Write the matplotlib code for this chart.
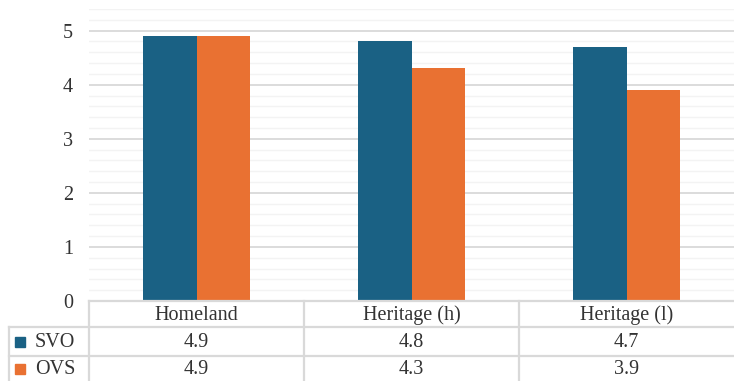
import matplotlib
matplotlib.use("Agg")
import matplotlib.pyplot as plt
from matplotlib.lines import Line2D
from matplotlib.patches import Rectangle
import numpy as np

categories = ["Homeland", "Heritage (h)", "Heritage (l)"]
series_names = ["SVO", "OVS"]
svo = [4.9, 4.8, 4.7]
ovs = [4.9, 4.3, 3.9]
yticks = [0, 1, 2, 3, 4, 5]
colors = ["#1A6184", "#E97132"]

plt.rcParams['font.family'] = ['Liberation Serif', 'DejaVu Serif']

W, H = 734, 381
fig = plt.figure(figsize=(W / 100, H / 100), dpi=100)

def fx(px):
    return px / W

def fy(py):
    return 1 - py / H

txt_c = "#333333"
fs = 14.5

ax_left, ax_right, ax_top, ax_bot = 89, 734, 9, 301
ax = fig.add_axes([fx(ax_left), fy(ax_bot), fx(ax_right - ax_left), (ax_bot - ax_top) / H])

x = np.arange(len(categories))
bw = 0.25
ax.bar(x - bw / 2, svo, bw, color=colors[0], zorder=3)
ax.bar(x + bw / 2, ovs, bw, color=colors[1], zorder=3)
ax.set_xlim(-0.5, len(categories) - 0.5)
ax.set_ylim(0, 5.4)
ax.set_yticks(yticks)
ax.set_yticklabels([str(t) for t in yticks], fontsize=fs, color=txt_c)
ax.set_yticks(np.arange(0, 5.41, 0.2), minor=True)
ax.tick_params(axis='y', which='both', length=0, pad=11.5)
ax.set_xticks([])
ax.grid(axis='y', which='major', color="#d9d9d9", linewidth=1.3, zorder=0)
ax.grid(axis='y', which='minor', color="#f3f3f3", linewidth=1.0, zorder=0)
for s in ax.spines.values():
    s.set_visible(False)

# data table
line_c = "#d9d9d9"
lw = 1.6
col_edges = [ax_left + (ax_right - ax_left) * i / len(categories) for i in range(len(categories) + 1)]
row_y = [301, 327, 356, 381]
leg_left = 9

def hline(x0, x1, y):
    fig.add_artist(Line2D([fx(x0), fx(x1)], [fy(y), fy(y)], color=line_c, lw=lw))

def vline(xp, y0, y1):
    fig.add_artist(Line2D([fx(xp), fx(xp)], [fy(y0), fy(y1)], color=line_c, lw=lw))

hline(ax_left, W, row_y[0])
hline(leg_left, W, row_y[1])
hline(leg_left, W, row_y[2])
vline(leg_left, row_y[1], H)
for i, cx in enumerate(col_edges[:-1]):
    vline(cx, row_y[0], H)

for i, c in enumerate(categories):
    cx = (col_edges[i] + col_edges[i + 1]) / 2
    fig.text(fx(cx), fy((row_y[0] + row_y[1]) / 2 + 1), c, ha='center', va='center', fontsize=fs, color=txt_c)

for r, (name, vals) in enumerate(zip(series_names, [svo, ovs])):
    yc = (row_y[r + 1] + row_y[r + 2]) / 2
    fig.add_artist(Rectangle((fx(15), fy(yc + 5)), fx(10), 10 / H, color=colors[r], transform=fig.transFigure))
    fig.text(fx(35), fy(yc + 1), name, ha='left', va='center', fontsize=fs, color=txt_c)
    for i, v in enumerate(vals):
        cx = (col_edges[i] + col_edges[i + 1]) / 2
        fig.text(fx(cx), fy(yc + 1), f"{v:.1f}", ha='center', va='center', fontsize=fs, color=txt_c)

fig.savefig("out.png", dpi=100)
